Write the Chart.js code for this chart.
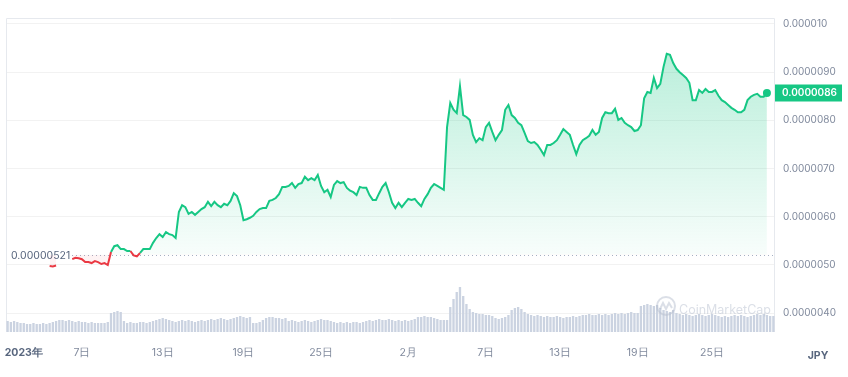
<!DOCTYPE html>
<html>
<head>
<meta charset="utf-8">
<script src="https://cdn.jsdelivr.net/npm/chart.js@4.4.0/dist/chart.umd.min.js"></script>
<style>
  html, body { margin: 0; padding: 0; background: #fff; }
</style>
</head>
<body>
<canvas id="chart" width="848" height="377"></canvas>
<script>
// price in units of 0.000001 JPY, one value per 6-hour slot (null = no data)
const openPrice = 5.21
const priceTicks = [4, 5, 6, 7, 8, 9, 10]
const tickSlots = [5, 23, 48, 73, 97, 124, 148, 171, 195, 218]
const tickTexts = ['2023年', '7日', '13日', '19日', '25日', '2月', '7日', '13日', '19日', '25日']

const price = [
  null, null, null, null, null, null, null, null, null, null, null, null, null,
  4.98, 4.97, 4.99,
  null, null, null, null,
  5.12, 5.15, 5.14, 5.12, 5.06, 5.06, 5.04, 5.08, 5.06, 5.02, 5.04, 5.00,
  5.27, 5.39, 5.41, 5.33, 5.33, 5.29, 5.29, 5.20, 5.18, 5.25,
  5.33, 5.33, 5.33, 5.46, 5.56, 5.64, 5.58, 5.68, 5.64, 5.62,
  5.56, 6.10, 6.24, 6.20, 6.06, 6.10, 6.04, 6.10, 6.16, 6.20,
  6.31, 6.22, 6.31, 6.24, 6.20, 6.27, 6.24, 6.33, 6.49, 6.43,
  6.24, 5.93, 5.95, 5.98, 6.02, 6.10, 6.16, 6.18, 6.18, 6.33,
  6.35, 6.39, 6.47, 6.62, 6.62, 6.64, 6.70, 6.60, 6.68, 6.70,
  6.83, 6.76, 6.80, 6.76, 6.87, 6.64, 6.51, 6.56, 6.41, 6.66,
  6.74, 6.70, 6.72, 6.60, 6.54, 6.51, 6.45, 6.62, 6.60, 6.60,
  6.45, 6.35, 6.35, 6.49, 6.62, 6.70, 6.51, 6.29, 6.18, 6.29,
  6.20, 6.29, 6.37, 6.35, 6.37, 6.29, 6.22, 6.37, 6.47, 6.60,
  6.68, 6.64, 6.60, 6.56, 7.86, 8.36, 8.22, 8.15, 8.71, 8.11,
  8.07, 8.01, 7.70, 7.55, 7.63, 7.59, 7.86, 7.95, 7.76, 7.59,
  7.70, 7.80, 8.22, 8.32, 8.11, 8.05, 7.95, 7.90, 7.74, 7.57,
  7.53, 7.55, 7.49, 7.39, 7.28, 7.49, 7.49, 7.53, 7.59, 7.70,
  7.82, 7.76, 7.70, 7.49, 7.30, 7.49, 7.59, 7.63, 7.68, 7.80,
  7.70, 7.76, 8.05, 8.17, 8.15, 8.15, 8.24, 8.01, 8.05, 7.95,
  7.90, 7.86, 7.78, 7.80, 7.90, 8.46, 8.59, 8.57, 8.88, 8.67,
  8.76, 9.11, 9.38, 9.36, 9.19, 9.07, 9.00, 8.94, 8.88, 8.78,
  8.42, 8.42, 8.63, 8.57, 8.65, 8.59, 8.59, 8.63, 8.51, 8.42,
  8.38, 8.32, 8.26, 8.22, 8.17, 8.17, 8.22, 8.42, 8.49, 8.53,
  8.55, 8.49, 8.49, 8.57,
  null, null
]

// traded volume per 6-hour slot (relative units)
const volume = [
  11, 10, 11, 10, 9,
  9, 8, 8, 9, 8, 8, 9, 8, 9,
  10, 11, 12, 12, 11, 12, 11, 10, 11,
  10, 10, 9, 10, 9, 9, 9, 9, 10,
  19, 20, 21, 20, 11,
  9, 10, 9, 9, 10, 10, 9, 10,
  11, 12, 13, 14, 13,
  12, 11, 10, 11, 12, 11, 12, 11, 10, 11, 12, 11,
  12, 13, 12, 13, 14, 13, 12, 13,
  14, 15, 16, 15, 14, 15,
  9, 9, 10,
  12, 14, 15, 15, 14, 14, 13, 14,
  11, 12, 11, 10, 11, 12, 11, 10, 11, 12,
  13, 12, 12,
  11, 10, 9, 10, 9, 10, 9, 10, 10, 9, 10,
  11, 12, 11, 12, 13, 12, 12, 13, 12, 11,
  12, 11, 12, 11, 12, 13, 15, 15,
  16, 15, 15, 14, 13,
  12, 12, 12,
  25, 33, 40, 45, 36, 28, 23, 20, 19,
  18, 18, 17, 17, 16,
  14, 13, 14, 15, 17,
  22, 24, 25, 23, 20, 18,
  17, 16, 17, 16, 15, 16, 15, 15, 16, 15, 14, 15, 15, 16,
  15, 16, 17, 17, 18, 17, 17, 18, 17, 18, 17,
  18, 19, 18, 19, 18, 19, 20, 19, 19,
  26, 27, 28, 27, 26, 27,
  24, 22, 21, 20, 22, 19, 18,
  17, 18, 17, 16, 17, 18, 17, 16, 17, 18, 17, 16, 15, 16, 15,
  16, 17, 16, 17, 16, 15, 16, 17, 18, 17, 18, 17, 16, 16
]

const green = '#16c784'
const red = '#ea3943'
const axisGray = '#808a9d'
const darkGray = '#58667e'

// 6-hour slot labels starting 2023-01-01
const slots = volume.map((_, i) => {
  const d = new Date(2023, 0, 1, 6 * i)
  return (d.getMonth() + 1) + '/' + d.getDate() + ' ' + d.getHours() + ':00'
})
let lastIdx = price.length - 1
while (price[lastIdx] === null) lastIdx--

const fmt = (v, p) => (v * 1e-6).toPrecision(p)

const decorations = {
  id: 'decorations',
  beforeDatasetsDraw (chart) {
    const { ctx, chartArea: a } = chart
    ctx.save()
    ctx.strokeStyle = '#e6e9ee'
    ctx.lineWidth = 1
    ctx.beginPath()
    ctx.moveTo(a.left + 0.5, a.bottom)
    ctx.lineTo(a.left + 0.5, a.top + 0.5)
    ctx.lineTo(a.right - 0.5, a.top + 0.5)
    ctx.lineTo(a.right - 0.5, a.bottom)
    ctx.stroke()
    // opening price reference line
    const by = Math.round(chart.scales.y.getPixelForValue(openPrice)) + 0.5
    ctx.strokeStyle = '#a6b0c3'
    ctx.setLineDash([1, 3])
    ctx.beginPath()
    ctx.moveTo(72, by)
    ctx.lineTo(a.right, by)
    ctx.stroke()
    ctx.setLineDash([])
    ctx.fillStyle = darkGray
    ctx.font = '10.5px Inter'
    ctx.textBaseline = 'middle'
    ctx.textAlign = 'left'
    ctx.fillText(fmt(openPrice, 3), 11, by)
    ctx.restore()
  },
  afterDatasetsDraw (chart) {
    const { ctx, chartArea: a } = chart
    ctx.save()
    // watermark
    ctx.globalAlpha = 0.5
    ctx.strokeStyle = '#b8c0cf'
    ctx.lineWidth = 2
    ctx.beginPath()
    ctx.arc(666, 306, 9, 0, Math.PI * 2)
    ctx.stroke()
    ctx.beginPath()
    ctx.moveTo(660, 309)
    ctx.lineTo(663, 303)
    ctx.lineTo(666, 309)
    ctx.lineTo(669, 303)
    ctx.lineTo(672, 308)
    ctx.stroke()
    ctx.fillStyle = '#b8c0cf'
    ctx.font = '12.5px Inter'
    ctx.textBaseline = 'middle'
    ctx.fillText('CoinMarketCap', 679, 310)
    ctx.globalAlpha = 1
    // current price tag
    const py = chart.scales.y.getPixelForValue(price[lastIdx])
    ctx.fillStyle = green
    ctx.fillRect(a.right, Math.round(py) - 8.5, 67, 17)
    ctx.fillStyle = '#fff'
    ctx.font = '600 10px Inter'
    ctx.textAlign = 'left'
    ctx.fillText(fmt(price[lastIdx], 2), a.right + 7, py + 0.5)
    // currency
    ctx.fillStyle = darkGray
    ctx.font = 'bold 10.5px Inter'
    ctx.textAlign = 'center'
    ctx.fillText('JPY', 818, 356)
    ctx.restore()
  }
}

const ctx = document.getElementById('chart').getContext('2d')
const chart = new Chart(ctx, {
  type: 'bar',
  data: {
    labels: slots,
    datasets: [
      {
        type: 'line',
        label: 'Price',
        data: price,
        yAxisID: 'y',
        borderColor: green,
        borderWidth: 2,
        tension: 0,
        spanGaps: false,
        pointRadius: c => (c.dataIndex === lastIdx ? 4 : 0),
        pointBackgroundColor: green,
        pointBorderWidth: 0,
        fill: { target: { value: openPrice }, above: 'rgba(22,199,132,0.15)', below: 'rgba(234,57,67,0.06)' },
        segment: {
          borderColor: c => (c.p0.parsed.y < openPrice || c.p1.parsed.y < openPrice ? red : green)
        },
        order: 0
      },
      {
        label: 'Volume',
        data: volume,
        yAxisID: 'yv',
        backgroundColor: '#cbd3e1',
        barPercentage: 0.72,
        categoryPercentage: 1,
        order: 1
      }
    ]
  },
  options: {
    responsive: false,
    animation: false,
    layout: { padding: { left: 6, top: 18, right: 0, bottom: 0 } },
    plugins: {
      legend: { display: false },
      tooltip: { enabled: false }
    },
    scales: {
      x: {
        offset: true,
        grid: { display: false },
        border: { display: false },
        ticks: {
          autoSkip: false,
          maxRotation: 0,
          minRotation: 0,
          padding: 7,
          color: c => (c.index === tickSlots[0] ? darkGray : axisGray),
          font: c => ({ family: 'Inter', size: 10.5, weight: c.index === tickSlots[0] ? 'bold' : 'normal' }),
          callback: (v, i) => {
            const k = tickSlots.indexOf(i)
            return k >= 0 ? tickTexts[k] : ''
          }
        },
        afterFit: s => { s.height = 45 }
      },
      y: {
        position: 'right',
        min: 3.61,
        max: 10.124,
        grid: { color: 'rgba(0,0,0,0.05)', drawTicks: false },
        border: { display: false },
        afterBuildTicks: s => { s.ticks = priceTicks.map(v => ({ value: v })) },
        ticks: {
          padding: 8,
          color: axisGray,
          font: { family: 'Inter', size: 10 },
          callback: v => fmt(v, 2)
        },
        afterFit: s => { s.width = 73 }
      },
      yv: { display: false, min: 0, max: 314 }
    }
  },
  plugins: [decorations]
})

// gradient fill from top of the plot down to the opening price
const area = chart.chartArea
const grad = ctx.createLinearGradient(0, area.top, 0, chart.scales.y.getPixelForValue(openPrice))
grad.addColorStop(0, 'rgba(22,199,132,0.34)')
grad.addColorStop(1, 'rgba(22,199,132,0.03)')
chart.data.datasets[0].fill = { target: { value: openPrice }, above: grad, below: 'rgba(234,57,67,0.06)' }
chart.update('none')
</script>
</body>
</html>
